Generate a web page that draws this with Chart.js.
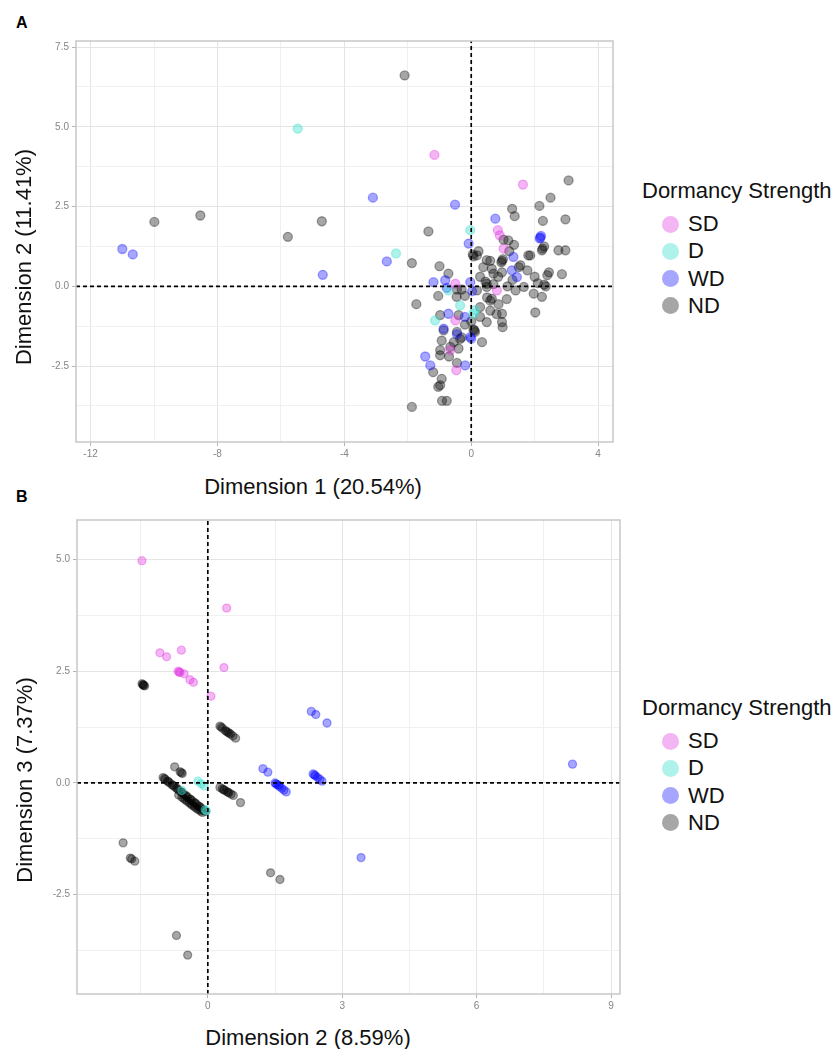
<!DOCTYPE html>
<html>
<head>
<meta charset="utf-8">
<script src="https://cdn.jsdelivr.net/npm/chart.js@4.4.1/dist/chart.umd.min.js"></script>
<style>
  body { margin: 0; background: #fff; font-family: "Liberation Sans", Arial, sans-serif; }
  #page { position: relative; width: 837px; height: 1049px; overflow: hidden; background: #fff; }
  canvas { position: absolute; }
  .tag { position: absolute; font-weight: bold; font-size: 16px; line-height: 18px; color: #000; }
  .title { position: absolute; font-size: 22px; color: #111; white-space: nowrap; transform: translate(-50%, -50%); }
  .ytitle { transform: translate(-50%, -50%) rotate(-90deg); }
  .leg { position: absolute; font-size: 22px; line-height: 26px; white-space: nowrap; color: #111; }
  .key { position: absolute; width: 17px; height: 17px; border-radius: 50%; }
</style>
</head>
<body>
<div id="page">
  <div class="tag" style="left:16px;top:14px">A</div>
  <div class="tag" style="left:16px;top:488px">B</div>
  <canvas id="chartA" width="587" height="436" style="left:36px;top:31px"></canvas>
  <canvas id="chartB" width="593" height="509" style="left:37px;top:510px"></canvas>
  <div class="title" style="left:313px;top:487px">Dimension 1 (20.54%)</div>
  <div class="title ytitle" style="left:24px;top:257px">Dimension 2 (11.41%)</div>
  <div class="title" style="left:308px;top:1038px">Dimension 2 (8.59%)</div>
  <div class="title ytitle" style="left:25px;top:780px">Dimension 3 (7.37%)</div>
  <div id="legendA"></div>
  <div id="legendB"></div>
</div>
<script>
const categories = ['SD', 'D', 'WD', 'ND'];
const legendTitle = 'Dormancy Strength';
const fillColors = ['rgba(225,50,225,0.36)', 'rgba(64,224,208,0.42)', 'rgba(0,0,255,0.35)', 'rgba(0,0,0,0.35)'];

// panel A: Dimension 1 vs Dimension 2
const xMajorA = [-12, -8, -4, 0, 4];
const xMinorA = [-10, -6, -2, 2];
const yMajorA = [7.5, 5, 2.5, 0, -2.5];
const yMinorA = [6.25, 3.75, 1.25, -1.25, -3.75];
const xRangeA = [-12.46, 4.47];
const yRangeA = [-4.88, 7.69];

const sdA = [[-1.16,4.12],[1.63,3.19],[0.84,1.76],[0.9,1.6],[1.02,1.18],[-0.5,0.08],[0.81,-0.13],[-0.5,-1.07],[-0.66,-2.0],[-0.47,-2.63]];
const dA = [[-5.47,4.94],[-2.37,1.03],[-0.03,1.76],[-0.72,-0.13],[-0.35,-0.6],[-1.14,-1.07],[0.07,-0.86],[0.12,-0.75]];
const wdA = [[-11.0,1.17],[-10.67,1.0],[-4.68,0.36],[-3.1,2.78],[-2.66,0.78],[-0.51,2.56],[0.76,2.12],[-0.08,1.34],
  [2.18,1.53],[2.2,1.58],[2.16,1.5],[1.33,0.92],[1.28,0.5],[1.44,0.29],[-0.03,0.13],[0.03,-0.15],[-0.82,0.19],
  [-1.19,0.13],[-0.77,-0.05],[-0.72,-0.86],[-0.2,-0.96],[-0.87,-1.33],[-0.03,-1.59],[0.0,-1.64],[-0.19,-2.48],
  [-1.45,-2.2],[-1.29,-2.48],[-0.45,-1.5]];
const ndA = [[-2.1,6.61],[-9.99,2.02],[-8.54,2.22],[-4.71,2.04],[-5.78,1.55],[-1.35,1.72],[-1.87,0.73],[-1.73,-0.56],[-1.87,-3.78],
  [3.07,3.32],[2.5,2.78],[2.15,2.52],[1.29,2.43],[1.37,2.2],[2.26,2.05],[2.97,2.1],[1.02,1.46],[1.17,1.44],[1.2,1.1],[1.35,1.3],
  [2.23,1.13],[2.25,1.18],[2.3,1.25],[2.75,1.13],[2.97,1.13],[2.86,0.38],[1.86,0.97],[1.8,0.97],[1.55,0.66],[1.5,0.6],[1.77,0.5],
  [2.45,0.44],[2.4,0.35],[2.0,0.3],[2.1,0.1],[2.3,0.05],[2.35,0.0],[2.23,-0.33],[1.97,-0.23],[1.66,-0.02],[1.4,-0.13],[1.14,0.0],
  [1.3,0.2],[2.02,-0.82],[0.07,0.94],[0.05,1.0],[0.18,0.97],[0.23,1.1],[0.6,0.8],[0.97,0.8],[1.0,0.85],[0.95,0.75],[0.49,0.82],
  [0.38,0.6],[0.65,0.55],[0.7,0.4],[0.97,0.44],[0.85,0.3],[0.7,0.07],[0.49,0.08],[0.45,0.15],[0.49,-0.02],[0.28,0.3],[0.18,-0.13],
  [-0.3,-0.1],[-0.45,-0.1],[-1.0,0.63],[-0.72,0.4],[-1.04,-0.3],[-0.46,-0.33],[-0.2,-0.3],[0.28,-0.65],[0.6,-0.45],[0.65,-0.39],
  [0.5,-0.35],[0.86,-0.56],[1.12,-0.4],[0.6,-0.76],[0.8,-0.87],[0.97,-0.86],[0.97,-1.12],[0.99,-1.28],[0.49,-1.12],[0.28,-0.96],
  [-0.98,-0.9],[-0.4,-0.9],[-0.2,-1.2],[0.0,-1.1],[-0.87,-1.38],[-0.93,-1.7],[-0.45,-1.43],[-0.3,-1.6],[-0.35,-1.65],[0.12,-1.43],
  [0.07,-1.35],[0.1,-1.38],[0.34,-1.75],[-0.55,-1.75],[-0.66,-1.9],[-0.4,-1.95],[-0.98,-2.0],[-0.98,-2.16],[-0.7,-2.2],[-0.45,-2.4],
  [-1.2,-2.69],[-0.93,-2.9],[-0.98,-3.1],[-1.04,-3.15],[-0.92,-3.59],[-0.77,-3.59]];

// panel B: Dimension 2 vs Dimension 3
const xMajorB = [0, 3, 6, 9];
const xMinorB = [-1.5, 1.5, 4.5, 7.5];
const yMajorB = [5, 2.5, 0, -2.5];
const yMinorB = [3.75, 1.25, -1.25, -3.75];
const xRangeB = [-2.92, 9.2];
const yRangeB = [-4.72, 5.88];

const sdB = [[-1.47,4.97],[0.42,3.91],[-1.07,2.91],[-0.92,2.82],[-0.59,2.97],[-0.66,2.5],[-0.64,2.48],[-0.62,2.47],
  [-0.53,2.44],[-0.4,2.31],[-0.32,2.25],[0.36,2.58],[0.07,1.94]];
const dB = [[-0.22,0.04],[-0.08,-0.07],[-0.15,-0.02],[-0.03,-0.63],[-0.06,-0.6],[-0.58,-0.17]];
const wdB = [[2.31,1.6],[2.41,1.53],[2.66,1.34],[1.23,0.32],[1.34,0.24],[1.5,0.0],[1.52,-0.02],[1.55,-0.04],[1.58,-0.05],
  [1.6,-0.08],[1.65,-0.12],[1.7,-0.16],[1.75,-0.2],[2.35,0.2],[2.38,0.18],[2.4,0.16],[2.45,0.12],[2.5,0.08],[2.55,0.04],
  [3.42,-1.67],[8.14,0.42]];
const ndB = [[-1.47,2.22],[-1.44,2.19],[-1.41,2.17],[-1.43,2.18],[-1.45,2.2],[0.27,1.27],[0.3,1.25],[0.33,1.22],[0.39,1.17],[0.45,1.13],
  [0.51,1.09],[0.56,1.05],[0.62,1.0],[0.42,1.15],[0.48,1.11],[-0.74,0.36],[-0.59,0.23],[-0.62,0.25],[-0.57,0.21],
  [-1.0,0.12],[-0.95,0.08],[-0.9,0.04],[-0.85,0.0],[-0.8,-0.04],[-0.75,-0.08],[-0.7,-0.12],[-0.65,-0.16],[-0.6,-0.2],
  [-0.55,-0.24],[-0.5,-0.28],[-0.45,-0.32],[-0.4,-0.36],[-0.35,-0.4],[-0.3,-0.44],[-0.25,-0.48],[-0.2,-0.52],[-0.15,-0.56],
  [-0.1,-0.6],[-0.05,-0.64],[-0.97,0.1],[-0.88,0.03],[-0.78,-0.05],[-0.68,-0.13],[-0.58,-0.21],[-0.48,-0.29],[-0.38,-0.37],
  [-0.28,-0.45],[-0.18,-0.53],[-0.08,-0.62],[-0.65,-0.27],[-0.58,-0.32],[-0.5,-0.38],[-0.42,-0.44],[-0.35,-0.5],[-0.28,-0.55],
  [-0.2,-0.6],[-0.12,-0.66],[-0.54,-0.35],[-0.46,-0.41],[-0.38,-0.47],[-0.31,-0.52],[-0.24,-0.58],[-0.16,-0.63],
  [0.27,-0.1],[0.32,-0.13],[0.37,-0.16],[0.42,-0.19],[0.47,-0.22],[0.52,-0.25],[0.57,-0.28],[0.35,-0.15],[0.45,-0.21],[0.73,-0.44],
  [-1.89,-1.34],[-1.73,-1.68],[-1.7,-1.7],[-1.63,-1.75],[1.4,-2.01],[1.61,-2.16],[-0.7,-3.41],[-0.45,-3.85]];

const panelBorder = {
  id: 'panelBorder',
  afterDatasetsDraw(chart) {
    const { ctx, chartArea: a } = chart;
    ctx.save();
    ctx.strokeStyle = '#c8c8c8';
    ctx.lineWidth = 1.5;
    ctx.strokeRect(a.left, a.top, a.right - a.left, a.bottom - a.top);
    ctx.restore();
  }
};

function eixo(major, minor, range, decimals, isX) {
  return {
    type: 'linear',
    min: range[0],
    max: range[1],
    afterBuildTicks: axis => {
      axis.ticks = major.concat(minor).sort((a, b) => a - b).map(v => ({ value: v }));
    },
    afterFit: axis => {
      if (isX) axis.height = 25; else axis.width = 40;
    },
    ticks: {
      autoSkip: false,
      maxRotation: 0,
      padding: isX ? 2 : 3,
      color: '#858585',
      font: { family: 'Liberation Sans', size: 10 },
      callback: v => major.includes(v) ? v.toFixed(decimals) : ''
    },
    grid: {
      color: c => major.includes(c.tick.value) ? '#e4e4e4' : '#f0f0f0',
      tickColor: c => major.includes(c.tick.value) ? '#b5b5b5' : 'rgba(0,0,0,0)',
      tickLength: 4,
      lineWidth: 1
    },
    border: { display: false }
  };
}

function montarDatasets(series, xr, yr, radius) {
  const ds = series.map((s, i) => ({
    label: categories[i],
    data: s.map(p => ({ x: p[0], y: p[1] })),
    backgroundColor: fillColors[i],
    borderColor: fillColors[i],
    borderWidth: 1.3,
    pointRadius: radius,
    order: 1
  }));
  const zeroLine = (data) => ({
    data: data,
    showLine: true,
    borderColor: '#000',
    borderWidth: 1.7,
    borderDash: [4, 3],
    pointRadius: 0,
    order: 0
  });
  ds.push(zeroLine([{ x: 0, y: yr[0] }, { x: 0, y: yr[1] }]));
  ds.push(zeroLine([{ x: xr[0], y: 0 }, { x: xr[1], y: 0 }]));
  return ds;
}

function desenhar(id, series, xMajor, xMinor, yMajor, yMinor, xr, yr, xDec, radius) {
  const ctx = document.getElementById(id).getContext('2d');
  return new Chart(ctx, {
    type: 'scatter',
    data: { datasets: montarDatasets(series, xr, yr, radius) },
    options: {
      responsive: false,
      animation: false,
      layout: { padding: { top: 10, right: 10, left: 0, bottom: 0 } },
      plugins: { legend: { display: false }, tooltip: { enabled: false } },
      scales: {
        x: eixo(xMajor, xMinor, xr, xDec, true),
        y: eixo(yMajor, yMinor, yr, 1, false)
      }
    },
    plugins: [panelBorder]
  });
}

function renderLegenda(id, top) {
  let html = `<div class="leg" style="left:642px;top:${top - 13}px">${legendTitle}</div>`;
  categories.forEach((c, i) => {
    const cy = top + 33 + i * 27.3;
    html += `<div class="key" style="left:662px;top:${cy - 8.5}px;background:${fillColors[i]}"></div>`;
    html += `<div class="leg" style="left:688px;top:${cy - 13}px">${c}</div>`;
  });
  document.getElementById(id).innerHTML = html;
}

desenhar('chartA', [sdA, dA, wdA, ndA], xMajorA, xMinorA, yMajorA, yMinorA, xRangeA, yRangeA, 0, 4.5);
desenhar('chartB', [sdB, dB, wdB, ndB], xMajorB, xMinorB, yMajorB, yMinorB, xRangeB, yRangeB, 0, 4);
renderLegenda('legendA', 191);
renderLegenda('legendB', 708);
</script>
</body>
</html>
